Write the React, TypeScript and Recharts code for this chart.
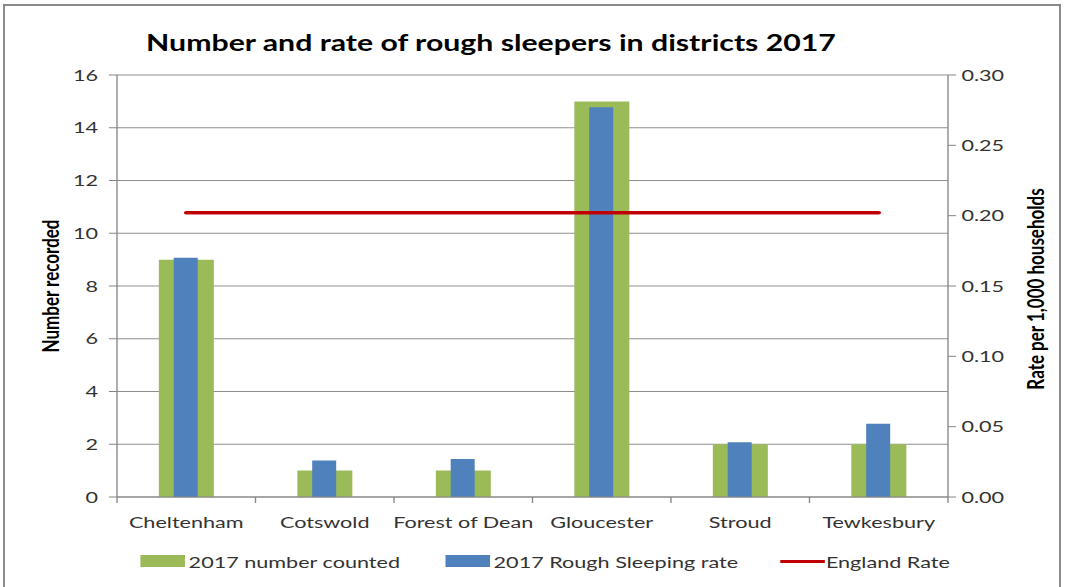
import React from 'react';
import {
  ComposedChart,
  Bar,
  Line,
  XAxis,
  YAxis,
  CartesianGrid,
  Legend,
} from 'recharts';

const categories = ['Cheltenham', 'Cotswold', 'Forest of Dean', 'Gloucester', 'Stroud', 'Tewkesbury'];
const numberCounted = [9, 1, 1, 15, 2, 2];
const roughSleepingRate = [0.17, 0.026, 0.027, 0.277, 0.039, 0.052];
const englandRate = [0.202, 0.202, 0.202, 0.202, 0.202, 0.202];

const leftTicks = [0, 2, 4, 6, 8, 10, 12, 14, 16];
const rightTicks = [0, 0.05, 0.1, 0.15, 0.2, 0.25, 0.3];

const data = categories.map((district, i) => ({
  district,
  counted: numberCounted[i],
  rate: roughSleepingRate[i],
  england: englandRate[i],
}));

// the chart is laid out narrow and then stretched sideways
const SX = 1.35;
const W = 1065 / SX;
const H = 587;
const PLOT_LEFT = 117 / SX;
const PLOT_RIGHT = 948 / SX;
const PLOT_TOP = 75;
const PLOT_BOTTOM = 497;
const BAND = (PLOT_RIGHT - PLOT_LEFT) / categories.length;

const FONT = 'Lato, "Liberation Sans", sans-serif';
const AXIS = '#868686';
const GREEN = '#9BBB59';
const BLUE = '#4F81BD';
const RED = '#C00000';

const legendItems = [
  { name: '2017 number counted', color: GREEN, kind: 'box', left: 140 / SX },
  { name: '2017 Rough Sleeping rate', color: BLUE, kind: 'box', left: 445 / SX },
  { name: 'England Rate', color: RED, kind: 'line', left: 780 / SX },
];

const CategoryTick = (props: any) => {
  const { x, payload, index } = props;
  const half = BAND / 2;
  return (
    <g>
      <line x1={x - half} x2={x - half} y1={PLOT_BOTTOM} y2={PLOT_BOTTOM + 6} stroke={AXIS} />
      {index === categories.length - 1 && (
        <line x1={x + half} x2={x + half} y1={PLOT_BOTTOM} y2={PLOT_BOTTOM + 6} stroke={AXIS} />
      )}
      <text x={x} y={528} textAnchor="middle" fontSize={16} fill="#333" fontFamily={FONT}>
        {payload.value}
      </text>
    </g>
  );
};

const axisTitle = (text: string, cx: number, cy: number) => () => (
  <text
    x={cx}
    y={cy}
    transform={`rotate(-90 ${cx} ${cy})`}
    textAnchor="middle"
    dominantBaseline="central"
    fontSize={17}
    fontWeight={700}
    fontFamily={FONT}
    fill="#000"
  >
    {text}
  </text>
);

const LegendContent = () => (
  <div style={{ position: 'relative', width: W, height: 0, fontFamily: FONT, fontSize: 16, color: '#333' }}>
    {legendItems.map((item) => (
      <div
        key={item.name}
        style={{ position: 'absolute', left: item.left, top: 0, display: 'flex', alignItems: 'center', height: 22, whiteSpace: 'nowrap' }}
      >
        <div
          style={{
            width: 33,
            height: item.kind === 'box' ? 12 : 3,
            background: item.color,
            marginRight: item.kind === 'box' ? 3 : 1,
          }}
        />
        <span>{item.name}</span>
      </div>
    ))}
  </div>
);

const App: React.FC = () => {
  return (
    <div style={{ position: 'absolute', left: 0, top: 0, width: 1065, height: 587, overflow: 'hidden', background: '#fff' }}>
      <div
        style={{
          position: 'absolute',
          left: 3,
          top: 4,
          width: 1058,
          height: 640,
          border: '2px solid #8a8a8a',
          boxSizing: 'border-box',
        }}
      />
      <div style={{ position: 'absolute', left: 0, top: 0, width: W, height: H, transform: `scaleX(${SX})`, transformOrigin: '0 0' }}>
        <div
          style={{
            position: 'absolute',
            left: 0,
            width: 491 / SX * 2,
            top: 29,
            textAlign: 'center',
            fontFamily: FONT,
            fontWeight: 700,
            fontSize: 22.4,
            color: '#000',
            whiteSpace: 'nowrap',
          }}
        >
          Number and rate of rough sleepers in districts 2017
        </div>
        <ComposedChart
          width={W}
          height={H}
          data={data}
          margin={{ top: PLOT_TOP, right: 0, left: 0, bottom: H - PLOT_BOTTOM - 30 }}
        >
          <CartesianGrid yAxisId="left" vertical={false} stroke="#8f8f8f" />
          <XAxis
            xAxisId="main"
            dataKey="district"
            height={30}
            stroke={AXIS}
            tickLine={false}
            tick={<CategoryTick />}
            interval={0}
          />
          <XAxis xAxisId="over" dataKey="district" hide />
          <YAxis
            yAxisId="left"
            width={PLOT_LEFT}
            domain={[0, 16]}
            ticks={leftTicks}
            stroke={AXIS}
            tickSize={6}
            tickMargin={8}
            tick={{ fill: '#333', fontSize: 16, fontFamily: FONT }}
            label={{ content: axisTitle('Number recorded', 37, 286) }}
          />
          <YAxis
            yAxisId="right"
            orientation="right"
            width={W - PLOT_RIGHT}
            domain={[0, 0.3]}
            ticks={rightTicks}
            stroke={AXIS}
            tickSize={6}
            tickMargin={4}
            tickFormatter={(v: number) => v.toFixed(2)}
            tick={{ fill: '#333', fontSize: 16, fontFamily: FONT }}
            label={{ content: axisTitle('Rate per 1,000 households', 1035 / SX, 289) }}
          />
          <Bar
            xAxisId="main"
            yAxisId="left"
            dataKey="counted"
            name="2017 number counted"
            fill={GREEN}
            barSize={55 / SX}
            isAnimationActive={false}
          />
          <Bar
            xAxisId="over"
            yAxisId="right"
            dataKey="rate"
            name="2017 Rough Sleeping rate"
            fill={BLUE}
            barSize={24 / SX}
            isAnimationActive={false}
          />
          <Line
            xAxisId="main"
            yAxisId="right"
            dataKey="england"
            name="England Rate"
            stroke={RED}
            strokeWidth={3.5}
            strokeLinecap="round"
            dot={false}
            activeDot={false}
            isAnimationActive={false}
          />
          <Legend
            content={<LegendContent />}
            wrapperStyle={{ position: 'absolute', left: 0, top: 550, width: W, height: 0 }}
          />
        </ComposedChart>
      </div>
    </div>
  );
};

export default App;
